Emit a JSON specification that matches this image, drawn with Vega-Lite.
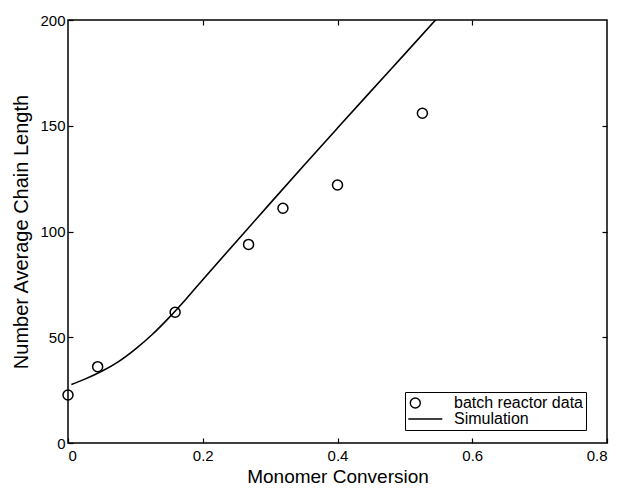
{
  "$schema": "https://vega.github.io/schema/vega-lite/v6.json",
  "width": 539,
  "height": 423,
  "autosize": "none",
  "padding": {"left": 68, "top": 20, "right": 11, "bottom": 45},
  "background": "white",
  "config": {
    "view": {"stroke": "black", "strokeWidth": 1.5},
    "font": "Liberation Sans",
    "axis": {
      "labelFont": "Liberation Sans",
      "titleFont": "Liberation Sans",
      "labelFontSize": 15,
      "titleFontSize": 19,
      "titleFontWeight": "normal",
      "labelColor": "black",
      "titleColor": "black",
      "tickColor": "black",
      "domainColor": "black",
      "grid": false,
      "tickSize": -5,
      "tickWidth": 1.2
    },
    "legend": {
      "labelFont": "Liberation Sans",
      "labelFontSize": 16,
      "labelColor": "black"
    }
  },
  "datasets": {
    "pts": [
      {"x": 0.0, "y": 22.7, "series": "batch reactor data"},
      {"x": 0.044, "y": 36.1, "series": "batch reactor data"},
      {"x": 0.159, "y": 61.8, "series": "batch reactor data"},
      {"x": 0.268, "y": 93.9, "series": "batch reactor data"},
      {"x": 0.319, "y": 111.0, "series": "batch reactor data"},
      {"x": 0.400, "y": 122.0, "series": "batch reactor data"},
      {"x": 0.526, "y": 155.9, "series": "batch reactor data"}
    ],
    "sim": [
      {"x": 0.005, "y": 27.7},
      {"x": 0.025, "y": 30.2},
      {"x": 0.05, "y": 33.9},
      {"x": 0.075, "y": 38.5},
      {"x": 0.1, "y": 44.4},
      {"x": 0.125, "y": 51.3},
      {"x": 0.15, "y": 59.3},
      {"x": 0.175, "y": 68.0},
      {"x": 0.2, "y": 77.2},
      {"x": 0.25, "y": 95.3},
      {"x": 0.3, "y": 113.3},
      {"x": 0.35, "y": 131.2},
      {"x": 0.4, "y": 148.9},
      {"x": 0.45, "y": 166.5},
      {"x": 0.5, "y": 184.0},
      {"x": 0.5455, "y": 200.0}
    ]
  },
  "layer": [
    {
      "data": {"name": "pts"},
      "mark": {"type": "point", "shape": "circle", "filled": false, "stroke": "black", "strokeWidth": 1.5, "size": 100, "opacity": 1},
      "encoding": {
        "x": {
          "field": "x", "type": "quantitative",
          "scale": {"domain": [0, 0.8], "nice": false, "zero": false},
          "axis": {"orient": "bottom", "values": [0, 0.2, 0.4, 0.6, 0.8], "format": "~g", "title": "Monomer Conversion", "labelPadding": 10, "titlePadding": 4, "domain": false}
        },
        "y": {
          "field": "y", "type": "quantitative",
          "scale": {"domain": [0, 200], "nice": false},
          "axis": {"orient": "left", "values": [0, 50, 100, 150, 200], "title": "Number Average Chain Length", "titleFontSize": 20, "labelPadding": 8, "titlePadding": 8, "domain": false}
        }
      }
    },
    {
      "data": {"name": "pts"},
      "mark": {"type": "point", "filled": false, "stroke": "black", "strokeWidth": 1.5, "size": 196, "opacity": 0},
      "encoding": {
        "x": {"field": "x", "type": "quantitative", "axis": null},
        "y": {"field": "y", "type": "quantitative", "axis": null},
        "shape": {
          "field": "series", "type": "nominal",
          "scale": {
            "domain": ["batch reactor data", "Simulation"],
            "range": ["M0.614,0A0.714,0.714,0,1,1,-0.814,0A0.714,0.714,0,1,1,0.614,0Z", "M-1.1,0L3.76,0"]
          },
          "legend": {
            "title": null,
            "orient": "none",
            "legendX": 337,
            "legendY": 372,
            "strokeColor": "black",
            "fillColor": "white",
            "padding": 3,
            "symbolSize": 196,
            "symbolOpacity": 1,
            "symbolStrokeColor": "black",
            "symbolStrokeWidth": 1.4,
            "symbolOffset": 0,
            "rowPadding": 0,
            "labelOffset": 30
          }
        }
      }
    },
    {
      "data": {"name": "sim"},
      "mark": {"type": "line", "color": "black", "strokeWidth": 1.6, "clip": true, "interpolate": "monotone"},
      "encoding": {
        "x": {
          "field": "x", "type": "quantitative",
          "axis": {"orient": "top", "values": [0.2, 0.4, 0.6], "labels": false, "title": null, "domain": false}
        },
        "y": {
          "field": "y", "type": "quantitative",
          "axis": {"orient": "right", "values": [50, 100, 150], "labels": false, "title": null, "domain": false}
        }
      }
    }
  ],
  "resolve": {"axis": {"x": "independent", "y": "independent"}}
}
